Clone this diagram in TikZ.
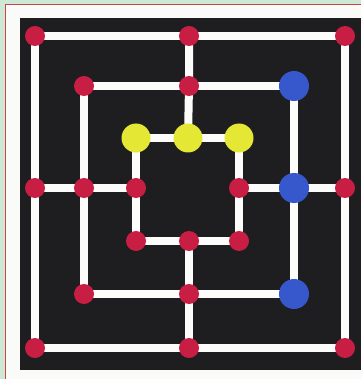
\documentclass[tikz,border=0pt]{standalone}
\usetikzlibrary{backgrounds}
\definecolor{mint}{RGB}{206,232,214}
\definecolor{frameRed}{RGB}{200,70,70}
\definecolor{frameWhite}{RGB}{250,250,248}
\definecolor{board}{RGB}{30,29,31}
\definecolor{pinkred}{RGB}{200,30,68}
\definecolor{pblue}{RGB}{55,88,205}
\definecolor{pyellow}{RGB}{228,232,52}
\definecolor{linewhite}{RGB}{252,252,250}
\tikzset{
  reddot/.style={circle,fill=pinkred,inner sep=0pt,minimum size=20pt},
  bluedot/.style={circle,fill=pblue,inner sep=0pt,minimum size=30pt},
  yellowdot/.style={circle,fill=pyellow,inner sep=0pt,minimum size=29pt},
  track/.style={draw=linewhite,line width=8pt,line cap=rect},
}
\begin{document}
\begin{tikzpicture}[x=1pt,y=-1pt]
\useasboundingbox (0,0) rectangle (361,379);
% dots
\node[reddot] (oTL) at (35,36) {};
\node[reddot] (oTM) at (189,36) {};
\node[reddot] (oTR) at (345,36) {};
\node[reddot] (oML) at (35,188) {};
\node[reddot] (oMR) at (345,188) {};
\node[reddot] (oBL) at (35,348) {};
\node[reddot] (oBM) at (189,348) {};
\node[reddot] (oBR) at (345,348) {};
\node[reddot] (mTL) at (84,86) {};
\node[reddot] (mTM) at (189,86) {};
\node[bluedot] (mTR) at (294,86) {};
\node[reddot] (mML) at (84,188) {};
\node[bluedot] (mMR) at (294,188) {};
\node[reddot] (mBL) at (84,294) {};
\node[reddot] (mBM) at (189,294) {};
\node[bluedot] (mBR) at (294,294) {};
\node[yellowdot] (iTL) at (136,138) {};
\node[yellowdot] (iTM) at (188,138) {};
\node[yellowdot] (iTR) at (239,138) {};
\node[reddot] (iML) at (136,188) {};
\node[reddot] (iMR) at (239,188) {};
\node[reddot] (iBL) at (136,241) {};
\node[reddot] (iBM) at (189,241) {};
\node[reddot] (iBR) at (239,241) {};
\begin{scope}[on background layer]
  \fill[mint] (0,0) rectangle (361,379);
  \fill[frameWhite] (5.5,4.5) rectangle (361,379);
  \draw[frameRed,line width=1pt] (5.5,379) -- (5.5,4.5) -- (361,4.5);
  \fill[board] (20,18) rectangle (361,370);
  % squares
  \draw[track] (oTL.center) -- (oTM.center) -- (oTR.center) -- (oMR.center) -- (oBR.center) -- (oBM.center) -- (oBL.center) -- (oML.center) -- cycle;
  \draw[track] (mTL.center) -- (mTM.center) -- (mTR.center) -- (mMR.center) -- (mBR.center) -- (mBM.center) -- (mBL.center) -- (mML.center) -- cycle;
  \draw[track] (iTL.center) -- (iTM.center) -- (iTR.center) -- (iMR.center) -- (iBR.center) -- (iBM.center) -- (iBL.center) -- (iML.center) -- cycle;
  % cross connectors
  \draw[track] (oTM.center) -- (mTM.center) -- (iTM.center);
  \draw[track] (oBM.center) -- (mBM.center) -- (iBM.center);
  \draw[track] (oML.center) -- (mML.center) -- (iML.center);
  \draw[track] (oMR.center) -- (mMR.center) -- (iMR.center);
\end{scope}
\end{tikzpicture}
\end{document}
